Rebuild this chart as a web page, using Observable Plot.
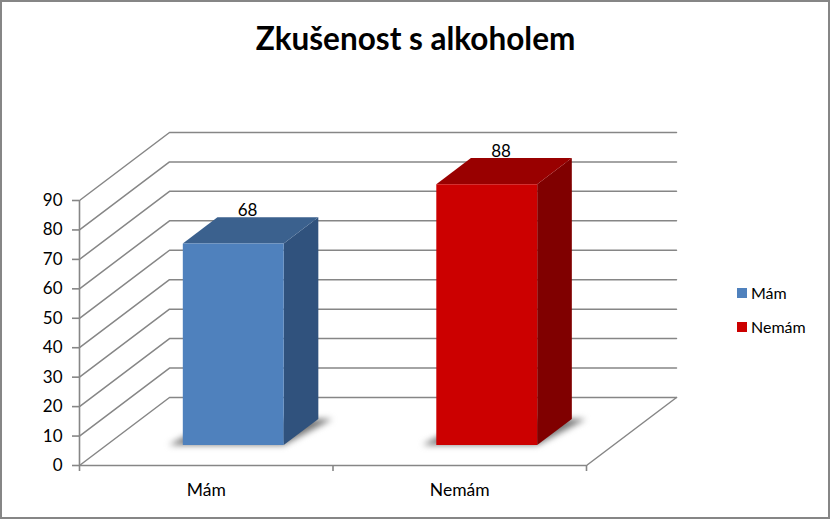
<!DOCTYPE html>
<html><head><meta charset="utf-8">
<script src="https://cdn.jsdelivr.net/npm/d3@7"></script>
<script src="https://cdn.jsdelivr.net/npm/@observablehq/plot@0.6"></script>
<style>
html,body{margin:0;padding:0;background:#fff}
#chart{position:relative;width:830px;height:519px;overflow:hidden;font-family:Lato,sans-serif;color:#000}
#chart svg{position:absolute;left:0;top:0}
#frame{position:absolute;inset:0;border:2px solid #868686;box-sizing:border-box;pointer-events:none}
#title{position:absolute;left:0;width:831px;top:18px;text-align:center;font-size:31.5px;font-weight:700;line-height:40px}
#legend{position:absolute;left:737px;top:282.5px;font-size:16px}
#legend div{line-height:20px;display:flex;align-items:center;height:20px;margin-bottom:14px}
#legend i{display:inline-block;width:10px;height:10px;margin-right:4px}
</style></head><body>
<div id="chart"><div id="frame"></div><div id="title"></div><div id="legend"></div></div>
<script>
const titleText = "Zkušenost s alkoholem";
const categories = ["Mám", "Nemám"];
const values = [68, 88];
const yTicks = [0,10,20,30,40,50,60,70,80,90];
const frontColors = ["#4F81BD", "#CC0000"];
const topColors = ["#3B618E", "#990000"];
const sideColors = ["#30527D", "#800000"];

// oblique projection: depth d runs 0 (front) to 1 (back wall)
const depthX = 0.355, depthY = 23.1;
const P = (x, v, d) => ({x: x + d * depthX, y: v + d * depthY});
const barD0 = 0.3, barD1 = 0.685, halfW = 0.199, stretch = 1.007;

const grid = yTicks.flatMap(v => [P(0,v,0), P(0,v,1), P(2,v,1)].map(p => ({...p, v})));
const floorEdge = [P(2,0,0), P(2,0,1)];
const poly = (pts, fill, extra = {}) => Plot.line(pts, {x:"x", y:"y", fill, stroke:"none", ...extra});

const marks = [
  Plot.line(grid, {x:"x", y:"y", z:"v", stroke:"#868686", strokeWidth:1.5}),
  Plot.line(floorEdge, {x:"x", y:"y", stroke:"#868686", strokeWidth:1.5}),
  Plot.ruleX([0], {y1:0, y2:90, stroke:"#868686", strokeWidth:1.6}),
  Plot.ruleY([0], {x1:0, x2:2, stroke:"#868686", strokeWidth:1.6}),
  Plot.axisY({ticks:yTicks, tickSize:7, tickPadding:10, stroke:"#868686", strokeWidth:1.6, fontSize:17, label:null, color:"#000"}),
  Plot.axisX({ticks:[0,1,2], tickSize:6, tickFormat:()=>"", stroke:"#868686", strokeWidth:1.6, label:null}),
  Plot.text(categories, {x:(d,i)=>i+0.5, y:()=>0, dy:25, text:d=>d, fontSize:17.5})
];
values.forEach((val,i) => {
  const c = i + 0.5, l = c - halfW, r = c + halfW, v = val * stretch;
  const mid = P(c, v, (barD0 + barD1) / 2);
  marks.push(
    poly([P(l-0.055,0,barD0), P(r,0,barD0), P(r+0.055,0,barD1), P(l,0,barD1)], "#777777", {imageFilter:"blur(3px)"}),
    poly([P(r,0,barD0), P(r,0,barD1), P(r,v,barD1), P(r,v,barD0)], sideColors[i]),
    poly([P(l,v,barD0), P(r,v,barD0), P(r,v,barD1), P(l,v,barD1)], topColors[i]),
    poly([P(l,0,barD0), P(r,0,barD0), P(r,v,barD0), P(l,v,barD0)], frontColors[i]),
    Plot.text([val], {x:()=>mid.x, y:()=>mid.y, text:d=>String(d), dx:-3, dy:-20, fontSize:17})
  );
});

const svg = Plot.plot({
  width:830, height:519,
  marginLeft:79, marginRight:244, marginTop:200, marginBottom:54,
  x:{domain:[0,2], axis:null},
  y:{domain:[0,90], axis:null},
  style:{fontFamily:"Lato,sans-serif", background:"transparent", color:"#000", overflow:"visible"},
  marks
});
const chart = document.getElementById("chart");
chart.insertBefore(svg, chart.firstChild);
document.getElementById("title").textContent = titleText;
d3.select("#legend").selectAll("div").data(categories).join("div")
  .html((d,i)=>`<i style="background:${frontColors[i]}"></i>${d}`);
</script>
</body></html>
